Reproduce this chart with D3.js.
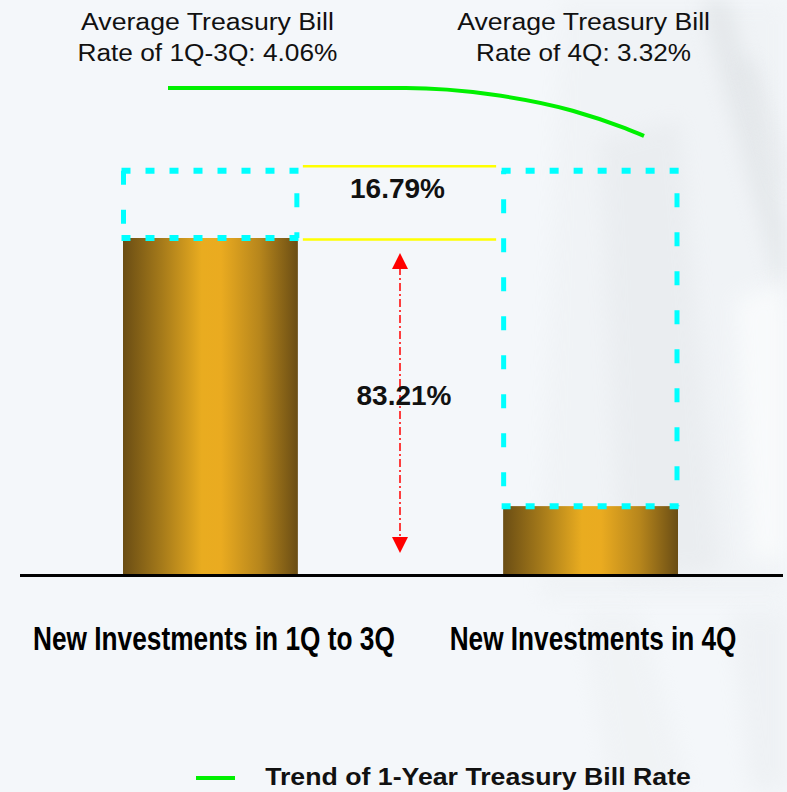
<!DOCTYPE html>
<html>
<head>
<meta charset="utf-8">
<script src="https://cdn.jsdelivr.net/npm/d3@7/dist/d3.min.js"></script>
<style>
  html, body { margin: 0; padding: 0; background: #f4f7fa; }
  svg { display: block; }
</style>
</head>
<body>
<div id="chart"></div>
<script>
// ---- data ----
const categories = ["New Investments in 1Q to 3Q", "New Investments in 4Q"];
const investmentValues = [100, 20.2];          // bar heights, 1Q-3Q = 100
const boxTopValue = 120;                        // top of the dashed boxes
const rateLines = [
    ["Average Treasury Bill", "Rate of 1Q-3Q: 4.06%"],
    ["Average Treasury Bill", "Rate of 4Q: 3.32%"]
];
const shareLabels = ["16.79%", "83.21%"];
const trendPosition = [0, 0.50, 0.68, 0.85, 0.96, 1];
const trendRate = [4.06, 4.06, 3.96, 3.71, 3.44, 3.32];
const legendLabel = "Trend of 1-Year Treasury Bill Rate";

const width = 787, height = 792;

const svg = d3.select("#chart").append("svg")
    .attr("width", width)
    .attr("height", height);

const defs = svg.append("defs");

// golden bar fill: dark edges, bright centre
const grad = defs.append("linearGradient")
    .attr("id", "gold")
    .attr("x1", "0%").attr("x2", "100%").attr("y1", "0%").attr("y2", "0%");
[[0, "#6a4d14"], [0.22, "#a57a1a"], [0.45, "#e9ac20"], [0.56, "#eaab20"], [0.78, "#b7861c"], [1, "#6a4d14"]]
    .forEach(s => grad.append("stop").attr("offset", s[0]).attr("stop-color", s[1]));

defs.append("filter").attr("id", "soft")
    .attr("x", "-30%").attr("y", "-30%").attr("width", "160%").attr("height", "160%")
    .append("feGaussianBlur").attr("stdDeviation", 10);

// ---- background (faint architecture on the right) ----
const bg = svg.append("g").attr("class", "background");
bg.append("rect").attr("width", width).attr("height", height).attr("fill", "#f4f7fa");
const shapes = [
    { p: [[560, 0], [787, 0], [787, 600], [540, 600]], c: "#e9ecef", o: 0.35 },
    { p: [[600, 140], [680, 120], [720, 570], [620, 580]], c: "#e0e3e6", o: 0.35 },
    { p: [[700, 0], [730, 0], [787, 230], [787, 320]], c: "#d6dadd", o: 0.45 },
    { p: [[740, 60], [755, 60], [787, 170], [787, 200]], c: "#d0d4d7", o: 0.35 },
    { p: [[735, 300], [787, 280], [787, 560], [750, 560]], c: "#fafcfd", o: 0.8 },
    { p: [[580, 610], [640, 610], [690, 792], [610, 792]], c: "#e9ecee", o: 0.35 },
    { p: [[730, 610], [787, 610], [787, 792], [750, 792]], c: "#e4e7ea", o: 0.35 }
];
bg.selectAll("polygon")
    .data(shapes)
    .enter()
    .append("polygon")
    .attr("points", d => d.p.map(q => q.join(",")).join(" "))
    .attr("fill", d => d.c)
    .attr("opacity", d => d.o)
    .attr("filter", "url(#soft)");

// ---- scales ----
const x = d3.scaleBand()
    .domain(categories)
    .range([123, 678])
    .paddingInner(0.54)
    .paddingOuter(0);

const y = d3.scaleLinear()
    .domain([0, 100])
    .range([574, 238]);

const trendX = d3.scaleLinear().domain([0, 1]).range([168, 644]);
const rateY = d3.scaleLinear().domain([3.32, 4.06]).range([136, 88]);

// squeeze a text horizontally to a target width (keeps its box honest)
function fitWidth(sel, cx, target) {
    const w = sel.node().getComputedTextLength();
    const k = target / w;
    sel.attr("x", 0)
        .attr("text-anchor", "middle")
        .attr("transform", `translate(${cx},0) scale(${k},1)`);
}

// ---- rate annotations at the top ----
const topLabel = svg.append("g")
    .attr("font-family", "'Liberation Sans', Arial, sans-serif")
    .attr("font-size", "23px")
    .attr("fill", "#111");
const topOffsets = [-3, -7];
const topWidths = [[253, 260], [253, 215]];
rateLines.forEach((lines, i) => {
    lines.forEach((t, j) => {
        const txt = topLabel.append("text")
            .attr("y", 30 + j * 31.5)
            .text(t);
        fitWidth(txt, x(categories[i]) + x.bandwidth() / 2 + topOffsets[i], topWidths[i][j]);
    });
});

// ---- trend curve ----
const trendLine = d3.line()
    .x(d => trendX(d[0]))
    .y(d => rateY(d[1]))
    .curve(d3.curveMonotoneX);

svg.append("path")
    .datum(trendPosition.map((p, i) => [p, trendRate[i]]))
    .attr("d", trendLine)
    .attr("fill", "none")
    .attr("stroke", "#00f000")
    .attr("stroke-width", 4);

// ---- bars ----
svg.append("g")
    .selectAll("rect")
    .data(categories)
    .enter()
    .append("rect")
    .attr("x", d => x(d))
    .attr("y", (d, i) => y(investmentValues[i]))
    .attr("width", x.bandwidth())
    .attr("height", (d, i) => y(0) - y(investmentValues[i]))
    .attr("fill", "url(#gold)");

// ---- dashed boxes above the bars ----
const boxes = svg.append("g")
    .attr("stroke", "#00ffff")
    .attr("stroke-width", 6)
    .attr("fill", "none");
const vOffsets = [[0, 16.5], [10.5, 16.5]];
categories.forEach((c, i) => {
    const x0 = x(c) + 0.5, x1 = x(c) + x.bandwidth() - 1;
    const y0 = y(boxTopValue), y1 = y(investmentValues[i]);
    // horizontal edges
    [y0, y1].forEach(yy => {
        boxes.append("line")
            .attr("x1", x0 - 2).attr("x2", x1 + 3)
            .attr("y1", yy).attr("y2", yy)
            .attr("stroke-dasharray", "9 15");
    });
    // vertical edges
    [x0, x1].forEach((xx, k) => {
        boxes.append("line")
            .attr("x1", xx).attr("x2", xx)
            .attr("y1", y0).attr("y2", y1)
            .attr("stroke-width", 5)
            .attr("stroke-dasharray", "14 25")
            .attr("stroke-dashoffset", vOffsets[i][k]);
    });
});

// ---- yellow guide lines ----
const gapX0 = x(categories[0]) + x.bandwidth() + 5;
const gapX1 = x(categories[1]) - 7;
svg.append("g")
    .selectAll("line")
    .data([y(boxTopValue) - 4.5, y(investmentValues[0]) + 1.5])
    .enter()
    .append("line")
    .attr("x1", gapX0).attr("x2", gapX1)
    .attr("y1", d => d).attr("y2", d => d)
    .attr("stroke", "#ffff00")
    .attr("stroke-width", 2.5);

// ---- red double arrow ----
const arrowX = 400;
const aTop = y(investmentValues[0]) + 15, aBot = y(0) - 21;
svg.append("line")
    .attr("x1", arrowX).attr("x2", arrowX)
    .attr("y1", aTop + 14).attr("y2", aBot - 14)
    .attr("stroke", "#ff0000")
    .attr("stroke-width", 1.5)
    .attr("stroke-dasharray", "8 3 2 3");
svg.append("path")
    .attr("d", `M${arrowX},${aTop} L${arrowX - 8},${aTop + 16} L${arrowX + 8},${aTop + 16} Z`)
    .attr("fill", "#ff0000");
svg.append("path")
    .attr("d", `M${arrowX},${aBot} L${arrowX - 8},${aBot - 16} L${arrowX + 8},${aBot - 16} Z`)
    .attr("fill", "#ff0000");

// ---- percentage labels ----
const pct = svg.append("g")
    .attr("font-family", "'Liberation Sans', Arial, sans-serif")
    .attr("font-weight", "bold")
    .attr("font-size", "28px")
    .attr("fill", "#111")
    .attr("text-anchor", "middle");
pct.append("text").attr("x", 397.5).attr("y", y(boxTopValue) + 27).text(shareLabels[0]);
pct.append("text").attr("x", 404).attr("y", 405).text(shareLabels[1]);

// ---- baseline ----
svg.append("line")
    .attr("x1", 20).attr("x2", 783)
    .attr("y1", y(0) + 1.5).attr("y2", y(0) + 1.5)
    .attr("stroke", "#000")
    .attr("stroke-width", 3);

// ---- category labels (narrow bold) ----
const catWidths = [362, 287];
const catShift = [3.5, 2.5];
const catLabels = svg.append("g")
    .attr("font-family", "'Liberation Sans', Arial, sans-serif")
    .attr("font-weight", "bold")
    .attr("font-size", "34px")
    .attr("fill", "#000");
categories.forEach((c, i) => {
    const txt = catLabels.append("text")
        .attr("y", 650)
        .text(c);
    fitWidth(txt, x(c) + x.bandwidth() / 2 + catShift[i], catWidths[i]);
});

// ---- legend ----
const legend = svg.append("g").attr("transform", "translate(196, 778)");
legend.append("line")
    .attr("x1", 0).attr("x2", 39)
    .attr("stroke", "#00f000")
    .attr("stroke-width", 4);
const legendText = legend.append("text")
    .attr("y", 7)
    .attr("font-family", "'Liberation Sans', Arial, sans-serif")
    .attr("font-weight", "bold")
    .attr("font-size", "24px")
    .attr("fill", "#111")
    .text(legendLabel);
fitWidth(legendText, 69 + 213, 426);
</script>
</body>
</html>
